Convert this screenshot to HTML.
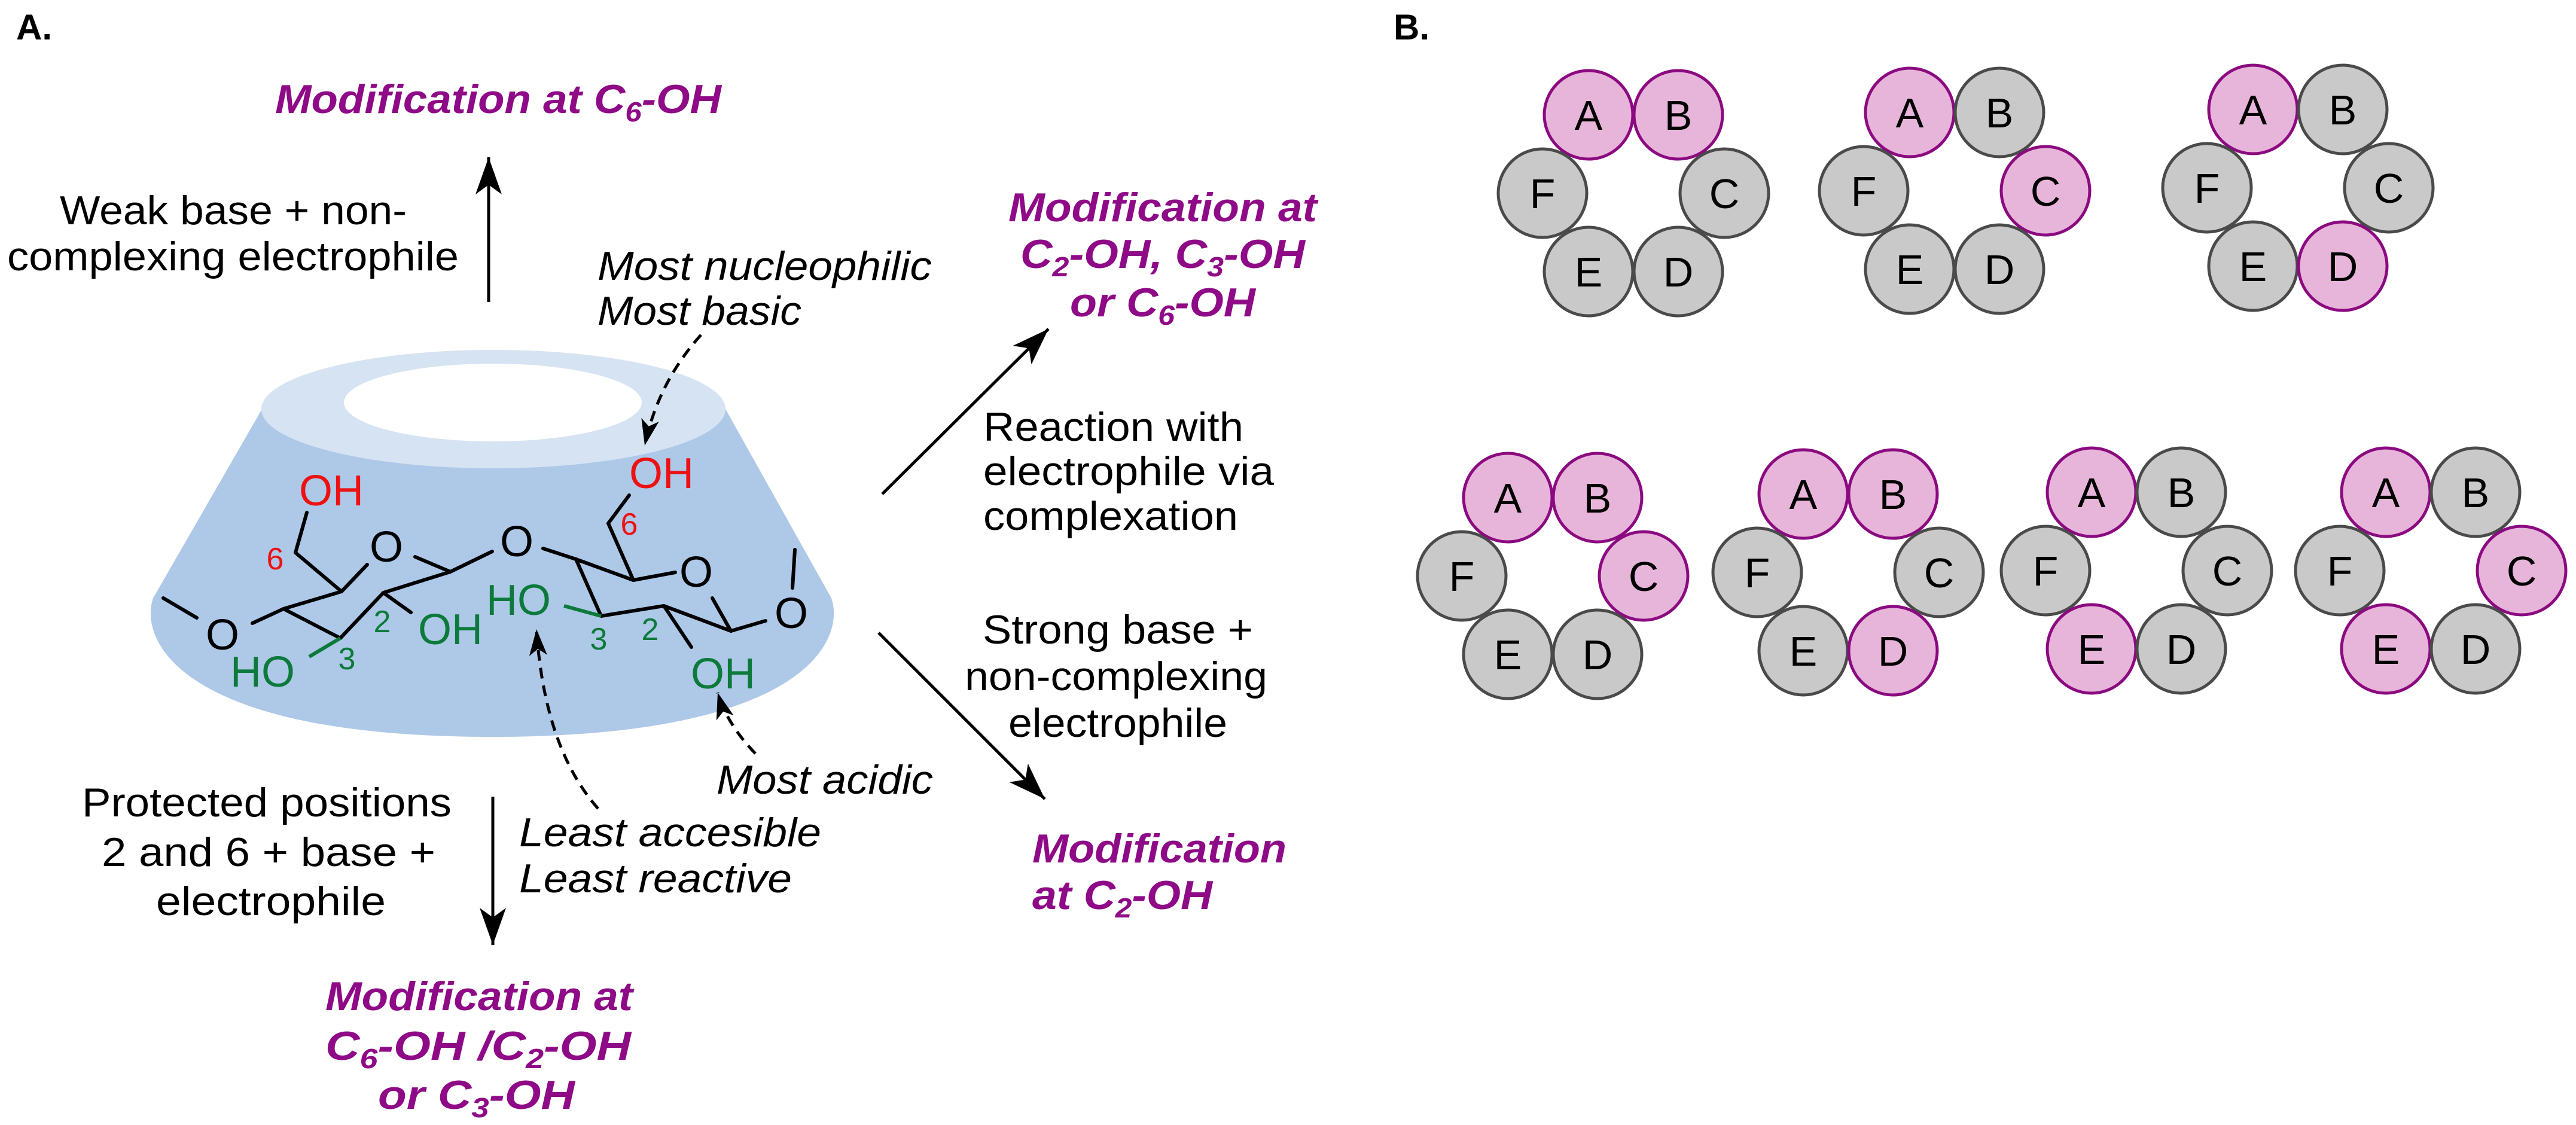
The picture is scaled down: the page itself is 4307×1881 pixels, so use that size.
<!DOCTYPE html>
<html><head><meta charset="utf-8"><style>
html,body{margin:0;padding:0;background:#fff;}
svg{display:block;}
text{font-family:"Liberation Sans",Arial,sans-serif;}
.p{fill:#8e0a86;font-weight:bold;font-style:italic;font-size:68px;}
.t{fill:#000;font-size:68px;}
.i{fill:#000;font-style:italic;font-size:68px;}
.bd{stroke:#000;stroke-width:6;fill:none;stroke-linecap:round;}
.g{fill:#0b7a3a;font-size:72px;}
.r{fill:#ee1111;font-size:72px;}
.k{fill:#000;font-size:72px;}
.cl{font-size:70px;text-anchor:middle;fill:#000;}
</style></head><body>
<svg width="4307" height="1881" viewBox="0 0 4307 1881" xmlns="http://www.w3.org/2000/svg">
<defs>
<marker id="ah" markerUnits="userSpaceOnUse" markerWidth="80" markerHeight="60" refX="0" refY="0" viewBox="-70 -30 80 60" orient="auto">
<path d="M0,0 L-62,-22 L-46,0 L-62,22 Z" fill="#000"/></marker>
<marker id="ahs" markerUnits="userSpaceOnUse" markerWidth="60" markerHeight="40" refX="0" refY="0" viewBox="-50 -20 60 40" orient="auto">
<path d="M0,0 L-44,-15 L-33,0 L-44,15 Z" fill="#000"/></marker>
</defs>
<text x="27" y="66" font-size="60" font-weight="bold">A.</text>
<text x="2330" y="66" font-size="60" font-weight="bold">B.</text>

<path d="M438,684 L256,1000 C232,1070 300,1232 823,1232 C1346,1232 1414,1070 1390,1000 L1213,684 Z" fill="#aec8e8"/>
<ellipse cx="825" cy="684" rx="388" ry="99" fill="#d6e3f3"/>
<ellipse cx="824" cy="673" rx="249" ry="65" fill="#fff"/>

<g class="bd">
<line x1="273" y1="1000" x2="329" y2="1033"/>
<line x1="422" y1="1042" x2="474" y2="1018"/>
<line x1="474" y1="1018" x2="571" y2="989"/>
<line x1="571" y1="989" x2="614" y2="944"/>
<line x1="694" y1="931" x2="753" y2="956"/>
<line x1="753" y1="956" x2="641" y2="991"/>
<line x1="641" y1="991" x2="569" y2="1067"/>
<line x1="569" y1="1067" x2="474" y2="1018"/>
<line x1="571" y1="989" x2="494" y2="924"/>
<line x1="494" y1="924" x2="513" y2="857"/>
<line x1="641" y1="991" x2="687" y2="1024"/>
<line x1="753" y1="956" x2="823" y2="922"/>
<line x1="908" y1="917" x2="963" y2="935"/>
<line x1="963" y1="935" x2="1059" y2="970"/>
<line x1="1059" y1="970" x2="1129" y2="957"/>
<line x1="1191" y1="1000" x2="1222" y2="1055"/>
<line x1="1222" y1="1055" x2="1110" y2="1013"/>
<line x1="1110" y1="1013" x2="1005" y2="1030"/>
<line x1="1005" y1="1030" x2="963" y2="935"/>
<line x1="1110" y1="1013" x2="1156" y2="1082"/>
<line x1="1059" y1="970" x2="1017" y2="875"/>
<line x1="1017" y1="875" x2="1052" y2="828"/>
<line x1="1222" y1="1055" x2="1280" y2="1038"/>
<line x1="1325" y1="983" x2="1329" y2="919"/>
</g>
<line x1="569" y1="1067" x2="517" y2="1098" stroke="#0b7a3a" stroke-width="6"/>
<line x1="1005" y1="1030" x2="943" y2="1013" stroke="#0b7a3a" stroke-width="6"/>

<text class="k" x="372" y="1086" text-anchor="middle">O</text>
<text class="k" x="646" y="939" text-anchor="middle">O</text>
<text class="k" x="864" y="930" text-anchor="middle">O</text>
<text class="k" x="1164" y="981" text-anchor="middle">O</text>
<text class="k" x="1323" y="1050" text-anchor="middle">O</text>
<text class="r" x="554" y="845" text-anchor="middle">OH</text>
<text class="r" x="1106" y="816" text-anchor="middle">OH</text>
<text fill="#ee1111" font-size="52" x="460" y="952" text-anchor="middle">6</text>
<text fill="#ee1111" font-size="52" x="1052" y="894" text-anchor="middle">6</text>
<text class="g" x="753" y="1077" text-anchor="middle">OH</text>
<text class="g" x="439" y="1148" text-anchor="middle">HO</text>
<text class="g" x="867" y="1028" text-anchor="middle">HO</text>
<text class="g" x="1209" y="1151" text-anchor="middle">OH</text>
<text fill="#0b7a3a" font-size="52" x="639" y="1057" text-anchor="middle">2</text>
<text fill="#0b7a3a" font-size="52" x="580" y="1119" text-anchor="middle">3</text>
<text fill="#0b7a3a" font-size="52" x="1001" y="1086" text-anchor="middle">3</text>
<text fill="#0b7a3a" font-size="52" x="1087" y="1070" text-anchor="middle">2</text>

<line x1="817" y1="505" x2="817" y2="263" stroke="#000" stroke-width="5" marker-end="url(#ah)"/>
<line x1="1475" y1="826" x2="1753" y2="550" stroke="#000" stroke-width="5" marker-end="url(#ah)"/>
<line x1="1469" y1="1058" x2="1747" y2="1336" stroke="#000" stroke-width="5" marker-end="url(#ah)"/>
<line x1="824" y1="1332" x2="824" y2="1580" stroke="#000" stroke-width="5" marker-end="url(#ah)"/>
<path d="M1172,560 Q1100,640 1078,745" stroke="#000" stroke-width="5" fill="none" stroke-dasharray="18 12" marker-end="url(#ahs)"/>
<path d="M1000,1352 Q910,1250 897,1052" stroke="#000" stroke-width="5" fill="none" stroke-dasharray="18 12" marker-end="url(#ahs)"/>
<path d="M1263,1260 Q1215,1210 1200,1158" stroke="#000" stroke-width="5" fill="none" stroke-dasharray="18 12" marker-end="url(#ahs)"/>

<text class="p" x="460" y="189" textLength="746" lengthAdjust="spacingAndGlyphs">Modification at C<tspan font-size="46" dy="14">6</tspan><tspan dy="-14">-OH</tspan></text>
<text class="t" x="100" y="375" textLength="580" lengthAdjust="spacingAndGlyphs">Weak base + non-</text>
<text class="t" x="12" y="452" textLength="755" lengthAdjust="spacingAndGlyphs">complexing electrophile</text>
<text class="i" x="999" y="468" textLength="559" lengthAdjust="spacingAndGlyphs">Most nucleophilic</text>
<text class="i" x="999" y="543" textLength="341" lengthAdjust="spacingAndGlyphs">Most basic</text>

<text class="p" x="1686" y="370" textLength="516" lengthAdjust="spacingAndGlyphs">Modification at</text>
<text class="p" x="1706" y="448" textLength="476" lengthAdjust="spacingAndGlyphs">C<tspan font-size="46" dy="14">2</tspan><tspan dy="-14">-OH, C</tspan><tspan font-size="46" dy="14">3</tspan><tspan dy="-14">-OH</tspan></text>
<text class="p" x="1789" y="529" textLength="310" lengthAdjust="spacingAndGlyphs">or C<tspan font-size="46" dy="14">6</tspan><tspan dy="-14">-OH</tspan></text>

<text class="t" x="1644" y="737" textLength="435" lengthAdjust="spacingAndGlyphs">Reaction with</text>
<text class="t" x="1644" y="811" textLength="486" lengthAdjust="spacingAndGlyphs">electrophile via</text>
<text class="t" x="1644" y="886" textLength="426" lengthAdjust="spacingAndGlyphs">complexation</text>

<text class="t" x="1643" y="1076" textLength="452" lengthAdjust="spacingAndGlyphs">Strong base +</text>
<text class="t" x="1613" y="1154" textLength="506" lengthAdjust="spacingAndGlyphs">non-complexing</text>
<text class="t" x="1686" y="1232" textLength="366" lengthAdjust="spacingAndGlyphs">electrophile</text>

<text class="p" x="1726" y="1442" textLength="425" lengthAdjust="spacingAndGlyphs">Modification</text>
<text class="p" x="1726" y="1520" textLength="301" lengthAdjust="spacingAndGlyphs">at C<tspan font-size="46" dy="14">2</tspan><tspan dy="-14">-OH</tspan></text>

<text class="i" x="1198" y="1327" textLength="362" lengthAdjust="spacingAndGlyphs">Most acidic</text>
<text class="i" x="868" y="1415" textLength="505" lengthAdjust="spacingAndGlyphs">Least accesible</text>
<text class="i" x="868" y="1492" textLength="456" lengthAdjust="spacingAndGlyphs">Least reactive</text>

<text class="t" x="137" y="1365" textLength="618" lengthAdjust="spacingAndGlyphs">Protected positions</text>
<text class="t" x="170" y="1448" textLength="558" lengthAdjust="spacingAndGlyphs">2 and 6 + base +</text>
<text class="t" x="261" y="1530" textLength="384" lengthAdjust="spacingAndGlyphs">electrophile</text>

<text class="p" x="544" y="1689" textLength="514" lengthAdjust="spacingAndGlyphs">Modification at</text>
<text class="p" x="544" y="1772" textLength="511" lengthAdjust="spacingAndGlyphs">C<tspan font-size="46" dy="14">6</tspan><tspan dy="-14">-OH /C</tspan><tspan font-size="46" dy="14">2</tspan><tspan dy="-14">-OH</tspan></text>
<text class="p" x="632" y="1854" textLength="329" lengthAdjust="spacingAndGlyphs">or C<tspan font-size="46" dy="14">3</tspan><tspan dy="-14">-OH</tspan></text>

<g transform="translate(2731,323)">
<circle cx="-75" cy="-131" r="74" fill="#e8b5da" stroke="#8b0a80" stroke-width="5"/><text class="cl" x="-75" y="-106">A</text>
<circle cx="75" cy="-131" r="74" fill="#e8b5da" stroke="#8b0a80" stroke-width="5"/><text class="cl" x="75" y="-106">B</text>
<circle cx="-152" cy="0" r="74" fill="#c9c9c9" stroke="#4a4a4a" stroke-width="5"/><text class="cl" x="-152" y="25">F</text>
<circle cx="152" cy="0" r="74" fill="#c9c9c9" stroke="#4a4a4a" stroke-width="5"/><text class="cl" x="152" y="25">C</text>
<circle cx="-75" cy="131" r="74" fill="#c9c9c9" stroke="#4a4a4a" stroke-width="5"/><text class="cl" x="-75" y="156">E</text>
<circle cx="75" cy="131" r="74" fill="#c9c9c9" stroke="#4a4a4a" stroke-width="5"/><text class="cl" x="75" y="156">D</text>
</g>
<g transform="translate(3268,319)">
<circle cx="-75" cy="-131" r="74" fill="#e8b5da" stroke="#8b0a80" stroke-width="5"/><text class="cl" x="-75" y="-106">A</text>
<circle cx="75" cy="-131" r="74" fill="#c9c9c9" stroke="#4a4a4a" stroke-width="5"/><text class="cl" x="75" y="-106">B</text>
<circle cx="-152" cy="0" r="74" fill="#c9c9c9" stroke="#4a4a4a" stroke-width="5"/><text class="cl" x="-152" y="25">F</text>
<circle cx="152" cy="0" r="74" fill="#e8b5da" stroke="#8b0a80" stroke-width="5"/><text class="cl" x="152" y="25">C</text>
<circle cx="-75" cy="131" r="74" fill="#c9c9c9" stroke="#4a4a4a" stroke-width="5"/><text class="cl" x="-75" y="156">E</text>
<circle cx="75" cy="131" r="74" fill="#c9c9c9" stroke="#4a4a4a" stroke-width="5"/><text class="cl" x="75" y="156">D</text>
</g>
<g transform="translate(3842,314)">
<circle cx="-75" cy="-131" r="74" fill="#e8b5da" stroke="#8b0a80" stroke-width="5"/><text class="cl" x="-75" y="-106">A</text>
<circle cx="75" cy="-131" r="74" fill="#c9c9c9" stroke="#4a4a4a" stroke-width="5"/><text class="cl" x="75" y="-106">B</text>
<circle cx="-152" cy="0" r="74" fill="#c9c9c9" stroke="#4a4a4a" stroke-width="5"/><text class="cl" x="-152" y="25">F</text>
<circle cx="152" cy="0" r="74" fill="#c9c9c9" stroke="#4a4a4a" stroke-width="5"/><text class="cl" x="152" y="25">C</text>
<circle cx="-75" cy="131" r="74" fill="#c9c9c9" stroke="#4a4a4a" stroke-width="5"/><text class="cl" x="-75" y="156">E</text>
<circle cx="75" cy="131" r="74" fill="#e8b5da" stroke="#8b0a80" stroke-width="5"/><text class="cl" x="75" y="156">D</text>
</g>
<g transform="translate(2596,963)">
<circle cx="-75" cy="-131" r="74" fill="#e8b5da" stroke="#8b0a80" stroke-width="5"/><text class="cl" x="-75" y="-106">A</text>
<circle cx="75" cy="-131" r="74" fill="#e8b5da" stroke="#8b0a80" stroke-width="5"/><text class="cl" x="75" y="-106">B</text>
<circle cx="-152" cy="0" r="74" fill="#c9c9c9" stroke="#4a4a4a" stroke-width="5"/><text class="cl" x="-152" y="25">F</text>
<circle cx="152" cy="0" r="74" fill="#e8b5da" stroke="#8b0a80" stroke-width="5"/><text class="cl" x="152" y="25">C</text>
<circle cx="-75" cy="131" r="74" fill="#c9c9c9" stroke="#4a4a4a" stroke-width="5"/><text class="cl" x="-75" y="156">E</text>
<circle cx="75" cy="131" r="74" fill="#c9c9c9" stroke="#4a4a4a" stroke-width="5"/><text class="cl" x="75" y="156">D</text>
</g>
<g transform="translate(3090,957)">
<circle cx="-75" cy="-131" r="74" fill="#e8b5da" stroke="#8b0a80" stroke-width="5"/><text class="cl" x="-75" y="-106">A</text>
<circle cx="75" cy="-131" r="74" fill="#e8b5da" stroke="#8b0a80" stroke-width="5"/><text class="cl" x="75" y="-106">B</text>
<circle cx="-152" cy="0" r="74" fill="#c9c9c9" stroke="#4a4a4a" stroke-width="5"/><text class="cl" x="-152" y="25">F</text>
<circle cx="152" cy="0" r="74" fill="#c9c9c9" stroke="#4a4a4a" stroke-width="5"/><text class="cl" x="152" y="25">C</text>
<circle cx="-75" cy="131" r="74" fill="#c9c9c9" stroke="#4a4a4a" stroke-width="5"/><text class="cl" x="-75" y="156">E</text>
<circle cx="75" cy="131" r="74" fill="#e8b5da" stroke="#8b0a80" stroke-width="5"/><text class="cl" x="75" y="156">D</text>
</g>
<g transform="translate(3572,954)">
<circle cx="-75" cy="-131" r="74" fill="#e8b5da" stroke="#8b0a80" stroke-width="5"/><text class="cl" x="-75" y="-106">A</text>
<circle cx="75" cy="-131" r="74" fill="#c9c9c9" stroke="#4a4a4a" stroke-width="5"/><text class="cl" x="75" y="-106">B</text>
<circle cx="-152" cy="0" r="74" fill="#c9c9c9" stroke="#4a4a4a" stroke-width="5"/><text class="cl" x="-152" y="25">F</text>
<circle cx="152" cy="0" r="74" fill="#c9c9c9" stroke="#4a4a4a" stroke-width="5"/><text class="cl" x="152" y="25">C</text>
<circle cx="-75" cy="131" r="74" fill="#e8b5da" stroke="#8b0a80" stroke-width="5"/><text class="cl" x="-75" y="156">E</text>
<circle cx="75" cy="131" r="74" fill="#c9c9c9" stroke="#4a4a4a" stroke-width="5"/><text class="cl" x="75" y="156">D</text>
</g>
<g transform="translate(4064,954)">
<circle cx="-75" cy="-131" r="74" fill="#e8b5da" stroke="#8b0a80" stroke-width="5"/><text class="cl" x="-75" y="-106">A</text>
<circle cx="75" cy="-131" r="74" fill="#c9c9c9" stroke="#4a4a4a" stroke-width="5"/><text class="cl" x="75" y="-106">B</text>
<circle cx="-152" cy="0" r="74" fill="#c9c9c9" stroke="#4a4a4a" stroke-width="5"/><text class="cl" x="-152" y="25">F</text>
<circle cx="152" cy="0" r="74" fill="#e8b5da" stroke="#8b0a80" stroke-width="5"/><text class="cl" x="152" y="25">C</text>
<circle cx="-75" cy="131" r="74" fill="#e8b5da" stroke="#8b0a80" stroke-width="5"/><text class="cl" x="-75" y="156">E</text>
<circle cx="75" cy="131" r="74" fill="#c9c9c9" stroke="#4a4a4a" stroke-width="5"/><text class="cl" x="75" y="156">D</text>
</g>
</svg>
</body></html>
